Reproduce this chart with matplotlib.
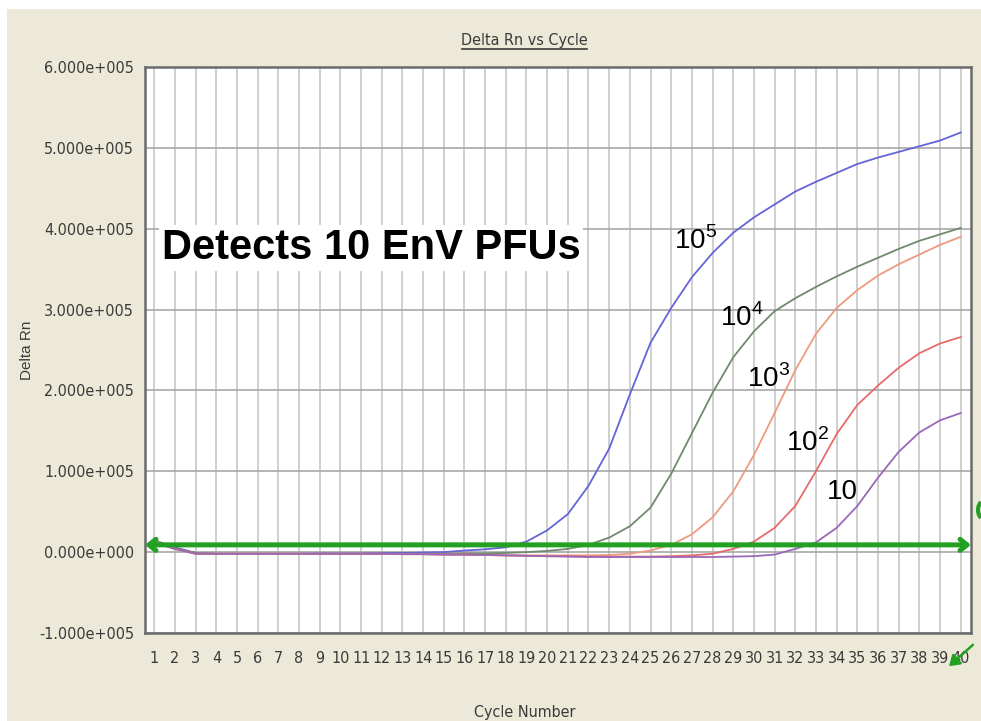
import matplotlib
matplotlib.use('Agg')
import matplotlib.pyplot as plt
from matplotlib import font_manager
from matplotlib.patches import Rectangle, Arc, FancyArrowPatch
from matplotlib.lines import Line2D

# qPCR amplification data (Delta Rn per cycle)
cycles = list(range(1, 41))

rn_1e5 = [14000, 6000, -1000, -2000, -2000, -2000, -2000, -2000, -1500, -1500,
          -1500, -1000, -1000, -500, 0, 2000, 3500, 6000, 13000, 27000,
          47000, 82000, 128000, 195000, 259000, 302000, 340000, 370000, 395000, 414000,
          430000, 446000, 458000, 469000, 480000, 488000, 495000, 502000, 509000, 519000]

rn_1e4 = [15000, 5000, -1000, -2000, -2000, -2000, -2000, -2000, -2000, -2000,
          -2000, -2000, -2000, -2000, -2000, -1500, -1500, -1000, 0, 1500,
          4000, 9000, 18000, 32000, 55000, 97000, 147000, 197000, 241000, 273000,
          298000, 314000, 328000, 341000, 353000, 364000, 375000, 385000, 393000, 401000]

rn_1e3 = [13000, 4000, -2000, -2000, -2000, -2000, -2000, -2000, -2000, -2000,
          -2000, -2000, -2500, -2500, -3000, -3000, -3500, -4000, -4000, -4000,
          -4000, -4000, -3500, -2000, 2000, 9000, 22000, 43000, 75000, 120000,
          172000, 225000, 270000, 302000, 324000, 342000, 356000, 368000, 380000, 390000]

rn_1e2 = [12000, 4000, -2000, -2000, -2000, -2000, -2000, -2000, -2000, -2000,
          -2000, -2000, -2500, -2500, -3000, -3000, -3500, -4000, -4500, -5000,
          -5000, -5500, -5500, -5500, -5500, -5000, -4000, -2000, 4000, 13000,
          30000, 57000, 100000, 146000, 182000, 206000, 228000, 246000, 258000, 266000]

rn_1e1 = [12000, 4000, -2000, -2000, -2000, -2000, -2000, -2000, -2000, -2000,
          -2000, -2000, -2500, -2500, -3000, -3000, -3500, -4000, -4500, -5000,
          -5500, -6000, -6000, -6000, -6000, -6000, -6000, -6000, -5500, -5000,
          -3000, 4000, 12000, 30000, 57000, 92000, 124000, 148000, 163000, 172000]

threshold = 9000

y_ticks = [-100000, 0, 100000, 200000, 300000, 400000, 500000, 600000]
y_tick_labels = ['-1.000e+005', '0.000e+000', '1.000e+005', '2.000e+005',
                 '3.000e+005', '4.000e+005', '5.000e+005', '6.000e+005']

# label text and where it sits (cycle, Delta Rn)
curve_labels = [('10$^5$', 27.2, 385000), ('10$^4$', 29.4, 290000), ('10$^3$', 30.7, 215000),
                ('10$^2$', 32.6, 135000), ('10', 34.3, 75000)]

beige = '#ECE9D8'
plt.rcParams['mathtext.fontset'] = 'custom'
plt.rcParams['mathtext.rm'] = 'Liberation Sans'

# condensed face for the axis texts, like the instrument software
cond_file = None
for f in font_manager.findSystemFonts():
    name = f.lower()
    if 'dejavusanscondensed.ttf' in name or 'liberationsansnarrow-regular' in name:
        cond_file = f
        break
if cond_file:
    small = font_manager.FontProperties(fname=cond_file, size=11.5)
else:
    small = font_manager.FontProperties(family='DejaVu Sans', size=10)

fig = plt.figure(figsize=(9.81, 7.21), dpi=100, facecolor='white')
fig.patches.append(Rectangle((7 / 981, 0), 1 - 7 / 981, 1 - 9 / 721,
                             transform=fig.transFigure, facecolor=beige,
                             edgecolor='none', zorder=-10))

ax = fig.add_axes([145 / 981, 1 - 633 / 721, (971 - 145) / 981, (633 - 67) / 721])
ax.set_facecolor('white')
ax.set_xlim(0.55, 40.5)
ax.set_ylim(-100000, 600000)

ax.set_xticks(cycles)
ax.set_xticklabels([str(c) for c in cycles], fontproperties=small, color='#3a3a3a')
ax.set_yticks(y_ticks)
ax.set_yticklabels(y_tick_labels, fontproperties=small, color='#3a3a3a')
ax.tick_params(axis='both', length=0)
ax.tick_params(axis='x', pad=13)
ax.tick_params(axis='y', pad=8)

ax.grid(axis='x', color='#cfcfcf', lw=1.4, zorder=0)
ax.grid(axis='y', color='#a8a8a8', lw=1.2, zorder=0)
for s in ax.spines.values():
    s.set_color('#6a6a6a')
    s.set_linewidth(1.8)

ax.plot(cycles, rn_1e5, color='#6464d8', lw=1.3, zorder=3)
ax.plot(cycles, rn_1e4, color='#6f8a6c', lw=1.3, zorder=3)
ax.plot(cycles, rn_1e3, color='#ee9a80', lw=1.3, zorder=3)
ax.plot(cycles, rn_1e2, color='#e86a6a', lw=1.3, zorder=3)
ax.plot(cycles, rn_1e1, color='#9a68b8', lw=1.3, zorder=3)

# threshold bar with arrow heads at both ends
ax.annotate('', xy=(0, threshold), xycoords=('axes fraction', 'data'),
            xytext=(1, threshold), textcoords=('axes fraction', 'data'),
            arrowprops=dict(arrowstyle='<->,head_length=0.5,head_width=0.4',
                            color='#22a022', lw=3.6, shrinkA=0, shrinkB=0),
            zorder=4)

for txt, cx, cy in curve_labels:
    ax.text(cx, cy, txt, fontsize=20, family='Liberation Sans', color='black',
            ha='center', va='center', zorder=5)

ax.text(1.35, 376000, 'Detects 10 EnV PFUs', fontsize=30, fontweight='bold',
        family='Liberation Sans', ha='left', va='center', zorder=5,
        bbox=dict(facecolor='white', edgecolor='none', pad=2))

ax.set_xlabel('Cycle Number', fontproperties=small, color='#3a3a3a')
ax.xaxis.set_label_coords(0.46, -(712 - 633) / 566)
ax.xaxis.label.set_va('center')
ax.set_ylabel('Delta Rn', family='Liberation Sans', fontsize=11, color='#3a3a3a')
ax.yaxis.set_label_coords(-(145 - 27) / 826, 0.5)
ax.yaxis.label.set_va('center')

fig.text(524 / 981, 1 - 40 / 721, 'Delta Rn vs Cycle', fontproperties=small,
         color='#3a3a3a', ha='center', va='center')
fig.add_artist(Line2D([462 / 981, 587 / 981], [1 - 49 / 721, 1 - 49 / 721],
                      color='#3a3a3a', lw=1.2))

# green marker bits at the right edge of the screenshot
fig.add_artist(Arc((990 / 981, 1 - 510 / 721), 24 / 981, 24 / 721, theta1=130, theta2=230,
                   transform=fig.transFigure, color='#22a022', lw=3))
fig.add_artist(FancyArrowPatch((975 / 981, 1 - 643 / 721), (947 / 981, 1 - 668 / 721),
                               transform=fig.transFigure,
                               arrowstyle='-|>,head_length=6,head_width=4',
                               color='#22a022', lw=1.8))

fig.savefig('out.png', dpi=100, facecolor=fig.get_facecolor())
